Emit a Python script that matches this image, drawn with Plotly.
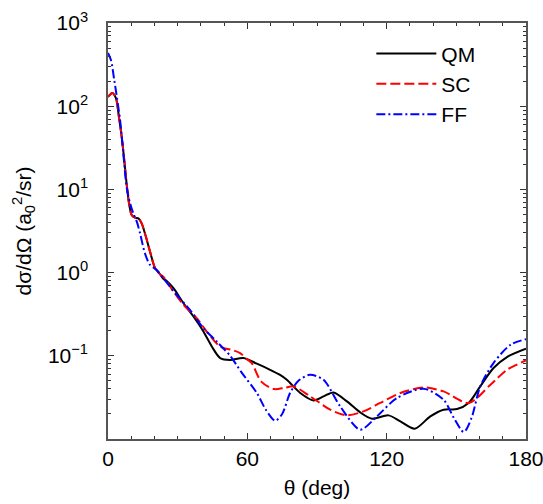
import numpy as np
import plotly.graph_objects as go

# Angles (deg) and log10 cross sections
qm_theta = [0, 1.9, 3.45, 4.7, 5.9, 7.0, 8.0, 9.05, 10.2, 11.6, 13.1, 14.5, 15.9, 18.1, 20.3, 22.4,
            23.8, 25.3, 28.2, 32.5, 36.8, 41.1, 44.7, 48.3, 52.6, 58.3, 64.1, 69.8, 74.1, 77, 82.8,
            88.5, 92.8, 97.1, 102.9, 108.6, 113.7, 120.8, 125.9, 132.1, 138.8, 144.5, 150.3, 155.3,
            160.3, 166, 171.8, 180]
qm_log = [2.112, 2.16, 2.093, 1.872, 1.632, 1.352, 1.073, 0.833, 0.692, 0.66, 0.652, 0.592, 0.472, 0.252, 0.052, -0.02,
          -0.075, -0.10, -0.188, -0.368, -0.528, -0.708, -0.888, -1.027, -1.05, -1.027, -1.095, -1.168, -1.23, -1.288, -1.447,
          -1.536, -1.488, -1.440, -1.548, -1.680, -1.756, -1.716, -1.788, -1.876, -1.728, -1.648, -1.64, -1.567,
          -1.368, -1.147, -1.015, -0.915]

sc_theta = [0, 1.9, 3.45, 4.7, 5.9, 7.0, 8.0, 9.05, 10.2, 11.6, 13.1, 14.5, 15.9, 18.1, 20.3, 22.4,
            23.8, 28.2, 32.5, 38.2, 42.5, 48.3, 54, 56.9, 59.8, 61.9, 66, 71.5, 76, 79.9, 87.1,
            95.7, 102.9, 110, 117.2, 125.9, 135.9, 144.5, 155.3, 164.7, 171.8, 180]
sc_log = [2.112, 2.16, 2.093, 1.872, 1.632, 1.352, 1.073, 0.833, 0.692, 0.66, 0.652, 0.592, 0.472, 0.252, 0.052, -0.02,
          -0.048, -0.228, -0.388, -0.548, -0.708, -0.888, -0.935, -0.968, -1.04, -1.087, -1.31, -1.40, -1.385, -1.368, -1.488,
          -1.648, -1.716, -1.668, -1.567, -1.447, -1.38, -1.428, -1.567, -1.348, -1.168, -1.056]

ff_theta = [0, 1.3, 2.7, 3.9, 5.2, 6.6, 8.0, 9.5, 10.9, 12.4, 13.8, 15.9, 18.1, 21, 23.8, 29.6, 35.3,
            41.1, 46.8, 52.6, 57.5, 64.1, 68, 72, 75, 78.4, 82, 86.9, 92.8, 100, 108.6, 115.8, 124.4,
            135.9, 144.5, 149, 153.2, 156.5, 160.3, 166, 173.3, 180]
ff_log = [2.64, 2.552, 2.312, 2.093, 1.832, 1.432, 1.032, 0.833, 0.713, 0.612, 0.472, 0.232, 0.092, 0.032, -0.068, -0.268, -0.448,
          -0.668, -0.828, -1.0, -1.2, -1.447, -1.65, -1.78, -1.70, -1.447, -1.30, -1.228, -1.288, -1.608, -1.888, -1.728, -1.508,
          -1.396, -1.528, -1.75, -1.916, -1.75, -1.368, -1.087, -0.868, -0.80]

x_ticks = [0, 60, 120, 180]
y_ticks = [0.1, 1, 10, 100, 1000]
y_ticktext = ["10<sup>−1</sup>", "10<sup>0</sup>", "10<sup>1</sup>", "10<sup>2</sup>", "10<sup>3</sup>"]

FONT = "Liberation Sans, Arial, sans-serif"

fig = go.Figure()
fig.add_trace(go.Scatter(x=qm_theta, y=np.power(10.0, qm_log), mode="lines", name="QM",
                         line=dict(color="black", width=2, shape="spline", smoothing=0.8)))
fig.add_trace(go.Scatter(x=sc_theta, y=np.power(10.0, sc_log), mode="lines", name="SC",
                         line=dict(color="#ff0000", width=2, dash="10px,4px", shape="spline", smoothing=0.8)))
fig.add_trace(go.Scatter(x=ff_theta, y=np.power(10.0, ff_log), mode="lines", name="FF",
                         line=dict(color="#0000ff", width=2, dash="9px,3px,2px,3px", shape="spline", smoothing=0.8)))

axis_common = dict(showline=True, linecolor="#555555", linewidth=1.5, mirror="allticks",
                   ticks="inside", ticklen=6, tickcolor="#333333", showgrid=False, zeroline=False,
                   automargin=False, ticklabeloverflow="allow",
                   tickfont=dict(family=FONT, size=21, color="black"))

fig.update_xaxes(range=[0, 180], tickvals=x_ticks, ticktext=[str(v) for v in x_ticks],
                 minor=dict(dtick=10, ticks="inside", ticklen=3.5, tickcolor="#333333", showgrid=False),
                 title=dict(text="θ (deg)", font=dict(family=FONT, size=21, color="black"), standoff=11),
                 **axis_common)
fig.update_yaxes(type="log", range=[-2, 3], tickvals=y_ticks, ticktext=y_ticktext,
                 minor=dict(dtick="D1", ticks="inside", ticklen=3.5, tickcolor="#333333", showgrid=False),
                 ticklabelstandoff=14,
                 title=dict(text="dσ/dΩ (a<sub>0</sub><sup>2</sup>/sr)", font=dict(family=FONT, size=21, color="black"),
                            standoff=11),
                 **axis_common)

fig.update_layout(
    width=543, height=504,
    margin=dict(l=108, r=17, t=23, b=65),
    paper_bgcolor="white", plot_bgcolor="white",
    showlegend=True,
    hovermode=False,
    legend=dict(x=0.63, y=0.975, xanchor="left", yanchor="top", bgcolor="rgba(0,0,0,0)",
                font=dict(family=FONT, size=21, color="black"), itemwidth=60, tracegroupgap=0),
)

fig.write_html("out.html", config={"displayModeBar": False},
               post_script="document.body.style.margin='0';document.body.style.overflow='hidden';")
